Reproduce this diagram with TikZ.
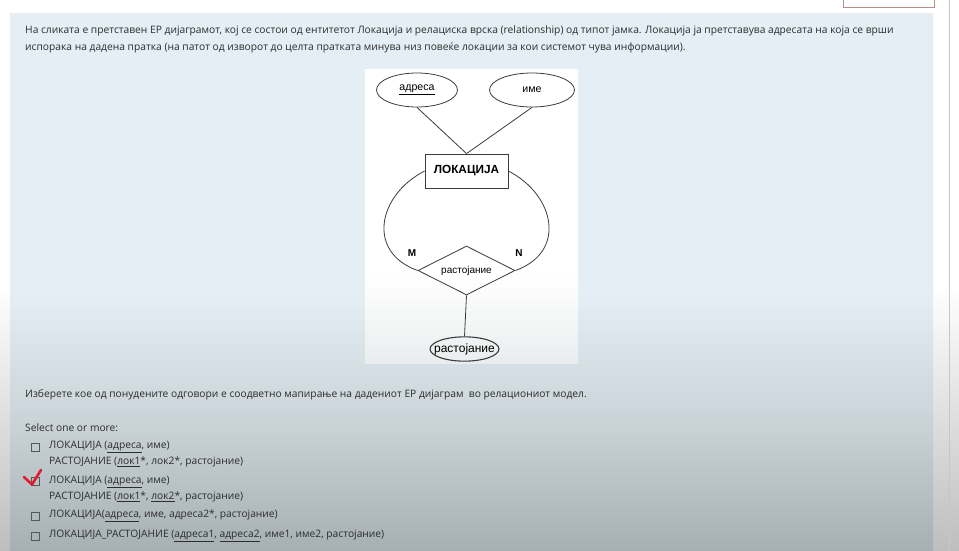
\documentclass[tikz,border=0pt]{standalone}
\usepackage{fontspec}
\setmainfont{Open Sans}
\newfontfamily\arialf{Liberation Sans}
\usetikzlibrary{shapes.geometric}
\definecolor{ptop}{RGB}{228,238,244}
\definecolor{pmid}{RGB}{202,211,216}
\definecolor{pbot}{RGB}{166,176,179}
\definecolor{gtop}{RGB}{255,255,255}
\definecolor{gbot}{RGB}{190,190,190}
\definecolor{dbot}{RGB}{234,237,238}
\definecolor{txt}{RGB}{45,45,45}
\definecolor{erline}{RGB}{60,60,60}
\definecolor{chk}{RGB}{226,28,44}
\definecolor{btn}{RGB}{185,140,140}
\pgfdeclareverticalshading{panelsh}{100bp}{color(0bp)=(pbot); color(25bp)=(pbot); color(37bp)=(pmid); color(49bp)=(ptop); color(100bp)=(ptop)}
\pgfdeclareverticalshading{bgsh}{100bp}{color(0bp)=(gbot); color(25bp)=(gbot); color(49bp)=(gtop); color(100bp)=(gtop)}
\pgfdeclareverticalshading{diagsh}{100bp}{color(0bp)=(dbot); color(25bp)=(dbot); color(40bp)=(white); color(100bp)=(white)}
\tikzset{
  qtext/.style={anchor=west, inner sep=0pt, text=txt, font=\fontsize{10.25}{12}\selectfont},
  attrib/.style={ellipse, draw=erline, line width=0.8pt, inner sep=0pt, font=\arialf\fontsize{10.6}{12}\selectfont, text=black},
  entbox/.style={rectangle, draw=erline, line width=0.8pt, inner sep=0pt, font=\arialf\bfseries\fontsize{11.8}{13}\selectfont},
  relbox/.style={diamond, aspect=2, draw=erline, line width=0.8pt, inner sep=0pt, font=\arialf\fontsize{10}{12}\selectfont},
  erconn/.style={draw=erline, line width=0.8pt},
  card/.style={inner sep=0pt, font=\arialf\bfseries\fontsize{10}{12}\selectfont},
  cbox/.style={draw=txt!80, line width=0.6pt, minimum width=8pt, minimum height=8pt, inner sep=0pt},
}
\begin{document}
\begin{tikzpicture}[x=1pt,y=-1pt]
\useasboundingbox (0,0) rectangle (959,551);
% backgrounds
\path[shading=bgsh] (0,0) rectangle (959,551);
\path[shading=panelsh] (10,14) rectangle (933,551);
\draw[gray!45, line width=0.6pt] (949,0) -- (949,551);
\draw[btn, fill=white, line width=0.8pt] (843,-4) rectangle (934,7);
% question text
\node[qtext] (l1) at (25,31) {На сликата е претставен ЕР дијаграмот, кој се состои од ентитетот Локација и релациска врска (relationship) од типот јамка. Локација ја претставува адресата на која се врши};
\node[qtext] (l2) at (25,48) {испорака на дадена пратка (на патот од изворот до целта пратката минува низ повеќе локации за кои системот чува информации).};
% diagram image
\path[shading=diagsh] (365,70) rectangle (578,363);
\node[attrib, minimum width=81pt, minimum height=34pt] (adr) at (417,90) {\underline{адреса}};
\node[attrib, minimum width=85pt, minimum height=34pt] (ime) at (532,90) {име};
\node[entbox, minimum width=83pt, minimum height=34pt] (ent) at (466.5,171) {ЛОКАЦИЈА};
\node[relbox, minimum width=97pt, minimum height=49pt] (rel) at (466.5,270.5) {растојание};
\node[attrib, line width=1.1pt, inner xsep=-6pt, inner ysep=3pt, font=\arialf\fontsize{12}{14}\selectfont] (att) at (464.5,349) {растојание};
\draw[erconn] (adr.south) -- (ent.north);
\draw[erconn] (ime.south) -- (ent.north);
\draw[erconn] (rel.south) -- (att.north);
\draw[erconn] (ent.west) .. controls (378,195) and (366,252) .. (rel.west);
\draw[erconn] (ent.east) .. controls (555,195) and (567,252) .. (rel.east);
\node[card] (m) at (412,253) {M};
\node[card] (n) at (519,253) {N};
% question
\node[qtext] (q) at (25,395) {Изберете кое од понудените одговори е соодветно мапирање на дадениот ЕР дијаграм\ \ во релациониот модел.};
\node[qtext] (sel) at (25,428) {Select one or more:};
\node[cbox] (c1) at (35,447) {};
\node[cbox] (c2) at (35,481) {};
\node[cbox] (c3) at (35,516) {};
\node[cbox] (c4) at (35,536) {};
\node[qtext] (o1a) at (49,447) {ЛОКАЦИЈА (\underline{адреса}, име)};
\node[qtext] (o1b) at (49,462) {РАСТОЈАНИЕ (\underline{лок1}*, лок2*, растојание)};
\node[qtext] (o2a) at (49,482) {ЛОКАЦИЈА (\underline{адреса}, име)};
\node[qtext] (o2b) at (49,497) {РАСТОЈАНИЕ (\underline{лок1}*, \underline{лок2}*, растојание)};
\node[qtext] (o3) at (49,516) {ЛОКАЦИЈА(\underline{адреса}, име, адреса2*, растојание)};
\node[qtext] (o4) at (49,536) {ЛОКАЦИЈА\_РАСТОЈАНИЕ (\underline{адреса1}, \underline{адреса2}, име1, име2, растојание)};
\draw[chk, line width=2.6pt, line cap=round, line join=round] (24,477) -- (32,484.5) -- (41,470);
\end{tikzpicture}
\end{document}
